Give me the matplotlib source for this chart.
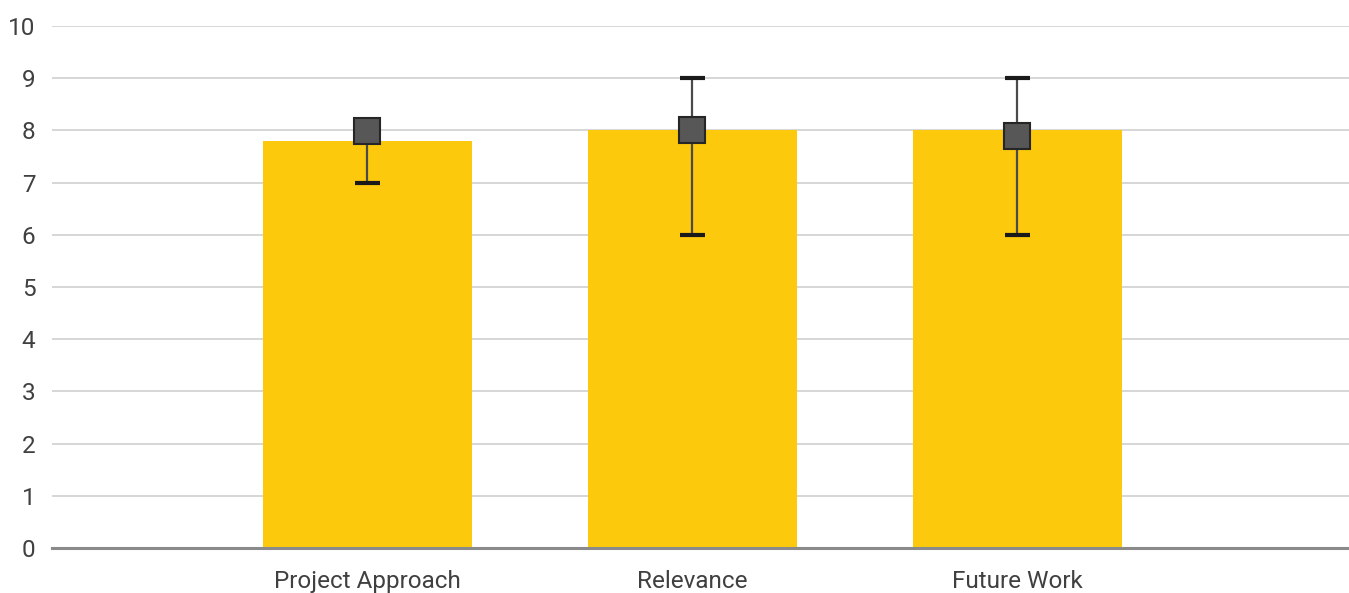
import numpy as np
import matplotlib.pyplot as plt

categories = ['Project Approach', 'Relevance', 'Future Work']
bar_values = [7.8, 8.0, 8.0]
marker_values = [7.98, 8.0, 7.89]
err_low = [7.0, 6.0, 6.0]
err_high = [8.2, 9.0, 9.0]

plt.rcParams['font.family'] = ['Roboto', 'DejaVu Sans']

fig = plt.figure(figsize=(13.49, 5.93), dpi=100)
ax = fig.add_axes([52 / 1349, 45 / 593, 1 - 52 / 1349, (548 - 26) / 593])

x = np.arange(1, len(categories) + 1)
ax.bar(x, bar_values, width=0.644, color='#FCC90C', zorder=2)

marker_values = np.array(marker_values)
lower = marker_values - np.array(err_low)
upper = np.array(err_high) - marker_values
eb = ax.errorbar(x, marker_values, yerr=[lower, upper], fmt='none',
                 ecolor='#4a4a4a', elinewidth=1.6, capsize=9, capthick=3,
                 zorder=3)
# caps in near black
for cap in eb[1]:
    cap.set_markeredgecolor('#1a1a1a')
ax.plot(x, marker_values, linestyle='none', marker='s', markersize=19,
        markerfacecolor='#575757', markeredgecolor='#262626',
        markeredgewidth=1.5, zorder=4)

ax.set_xlim(0.03, 4.02)
ax.set_ylim(0, 10)
ax.set_yticks(range(0, 11))
ax.set_xticks(x)
ax.set_xticklabels(categories)

ax.grid(axis='y', color='#d0d0d0', linewidth=1.2, zorder=0)
ax.set_axisbelow(True)
for s in ['top', 'right', 'left']:
    ax.spines[s].set_visible(False)
ax.spines['bottom'].set_color('#8a8a8a')
ax.spines['bottom'].set_linewidth(2.2)
ax.spines['bottom'].set_zorder(5)

ax.tick_params(axis='both', length=0, labelsize=17.5, colors='#404040')
ax.tick_params(axis='x', pad=16)
ax.tick_params(axis='y', pad=12)

fig.savefig('out.png', dpi=100)
